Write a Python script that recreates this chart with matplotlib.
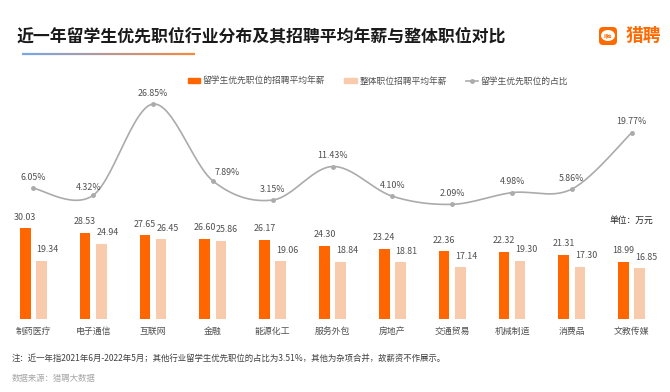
import numpy as np
import matplotlib
matplotlib.use('Agg')
import matplotlib.pyplot as plt
from matplotlib.patches import FancyBboxPatch, Ellipse, Patch
from matplotlib.lines import Line2D
from matplotlib.collections import LineCollection
from matplotlib.colors import to_rgb

plt.rcParams['font.family'] = ['Noto Sans CJK SC', 'DejaVu Sans']

# 数据
categories = ['制药医疗', '电子通信', '互联网', '金融', '能源化工', '服务外包',
              '房地产', '交通贸易', '机械制造', '消费品', '文教传媒']
salary_intl = [30.03, 28.53, 27.65, 26.60, 26.17, 24.30, 23.24, 22.36, 22.32, 21.31, 18.99]
salary_all = [19.34, 24.94, 26.45, 25.86, 19.06, 18.84, 18.81, 17.14, 19.30, 17.30, 16.85]
share_pct = [6.05, 4.32, 26.85, 7.89, 3.15, 11.43, 4.10, 2.09, 4.98, 5.86, 19.77]

# 百分比标签的微调（像素）
share_label_shift = [(0, 11), (-5, 8), (0, 11), (14, 8), (0, 11), (0, 11),
                     (0, 11), (0, 11), (0, 11), (0, 11), (0, 11)]

ORANGE = '#FF6600'
LIGHT = '#F8CBAD'
GREY = '#ABABAB'
TXT = '#505050'


def catmull_rom(xs, ys, n=30):
    # 平滑曲线（类似 Excel 的平滑线）
    px = np.concatenate([[xs[0]], xs, [xs[-1]]])
    py = np.concatenate([[ys[0]], ys, [ys[-1]]])
    out_x, out_y = [], []
    t = np.linspace(0, 1, n)
    for i in range(1, len(px) - 2):
        for p, out in ((px, out_x), (py, out_y)):
            p0, p1, p2, p3 = p[i - 1], p[i], p[i + 1], p[i + 2]
            seg = 0.5 * ((2 * p1) + (-p0 + p2) * t + (2 * p0 - 5 * p1 + 4 * p2 - p3) * t ** 2
                         + (-p0 + 3 * p1 - 3 * p2 + p3) * t ** 3)
            out.extend(seg)
    return np.array(out_x), np.array(out_y)


W, H = 670, 392
fig = plt.figure(figsize=(W / 100, H / 100), dpi=100)
fig.patch.set_facecolor('white')

# 坐标区：以像素位置换算
top_px, base_px = 90, 319
ax = fig.add_axes([0, 1 - base_px / H, 1, (base_px - top_px) / H])
step = 59.84
ax.set_xlim(-33.3 / step, (W - 33.3) / step)
ax.set_ylim(0, (base_px - top_px) / 3.02)

x = np.arange(len(categories))
bw = 0.18
off = 0.135
ax.bar(x - off, salary_intl, bw, color=ORANGE, zorder=2)
ax.bar(x + off, salary_all, bw, color=LIGHT, zorder=2)

for xi, v in zip(x, salary_intl):
    ax.annotate(f'{v:.2f}', (xi - off, v), xytext=(0, 8), textcoords='offset points',
                ha='center', va='center', fontsize=6.4, color=TXT)
for xi, v in zip(x, salary_all):
    ax.annotate(f'{v:.2f}', (xi + off, v), xytext=(4.5, 8), textcoords='offset points',
                ha='center', va='center', fontsize=6.4, color=TXT)

ax.set_xticks(x)
ax.set_xticklabels(categories, fontsize=6.4, color=TXT)
ax.tick_params(axis='x', length=0, pad=6)
ax.set_yticks([])
for s in ax.spines.values():
    s.set_visible(False)

# 占比折线（次坐标轴）
ax2 = ax.twinx()
zero_px, pxpp = 212.8, 4.05
ax2.set_ylim(-(base_px - zero_px) / pxpp, (zero_px - top_px) / pxpp)
sx, sy = catmull_rom(x.astype(float), np.array(share_pct))
ax2.plot(sx, sy, color=GREY, lw=1.2, zorder=3)
ax2.plot(x, share_pct, 'o', color=GREY, ms=2.5, zorder=4)
for xi, v, (dx, dy) in zip(x, share_pct, share_label_shift):
    ax2.annotate(f'{v:.2f}%', (xi, v), xytext=(dx * 0.72, dy * 0.72), textcoords='offset points',
                 ha='center', va='center', fontsize=6.4, color=TXT)
ax2.set_yticks([])
for s in ax2.spines.values():
    s.set_visible(False)

# 图例
handles = [Patch(color=ORANGE), Patch(color=LIGHT),
           Line2D([], [], color=GREY, lw=1.2, marker='o', ms=2.5)]
labels = ['留学生优先职位的招聘平均年薪', '整体职位招聘平均年薪', '留学生优先职位的占比']
fig.legend(handles, labels, loc='center', bbox_to_anchor=(378 / W, 1 - 81 / H), ncol=3,
           frameon=False, fontsize=6.3, handlelength=1.4, handleheight=0.55,
           handletextpad=0.3, columnspacing=2.2, labelcolor=TXT)

# 覆盖层：标题、标志、注释
ov = fig.add_axes([0, 0, 1, 1], zorder=10)
ov.set_xlim(0, W)
ov.set_ylim(H, 0)
ov.axis('off')

ov.text(17, 36, '近一年留学生优先职位行业分布及其招聘平均年薪与整体职位对比',
        fontsize=12.2, fontweight='bold', color='#1A1A1A', va='center', ha='left')

# 标题下渐变线
gx = np.linspace(22, 195, 60)
segs = [[(gx[i], 54), (gx[i + 1], 54)] for i in range(len(gx) - 1)]
c0, c1 = np.array(to_rgb('#79A6E6')), np.array(to_rgb('#F5883F'))
cols = [c0 + (c1 - c0) * k / (len(segs) - 1) for k in range(len(segs))]
ov.add_collection(LineCollection(segs, colors=cols, linewidths=1.6))

# 猎聘标志
ov.add_patch(FancyBboxPatch((599, 27), 18, 18, boxstyle='round,pad=0,rounding_size=4',
                            facecolor='#FF6A00', edgecolor='none'))
ov.add_patch(Ellipse((608, 35.5), 14, 11, facecolor='white', edgecolor='none'))
ov.text(608, 35.5, '猎聘', fontsize=3, color='#FF6A00', ha='center', va='center', fontweight='bold')
ov.text(626, 36, '猎聘', fontsize=12.8, color='#FF6A00', ha='left', va='center', fontweight='bold')

ov.text(653, 220, '单位：万元', fontsize=6.3, color='#262626', ha='right', va='center')

ov.text(12, 358, '注：近一年指2021年6月-2022年5月；其他行业留学生优先职位的占比为3.51%，其他为杂项合并，故薪资不作展示。',
        fontsize=6.05, color='#404040', ha='left', va='center')
ov.text(12, 378, '数据来源：猎聘大数据', fontsize=6.05, color='#A6A6A6', ha='left', va='center')

fig.savefig('out.png', dpi=100)
